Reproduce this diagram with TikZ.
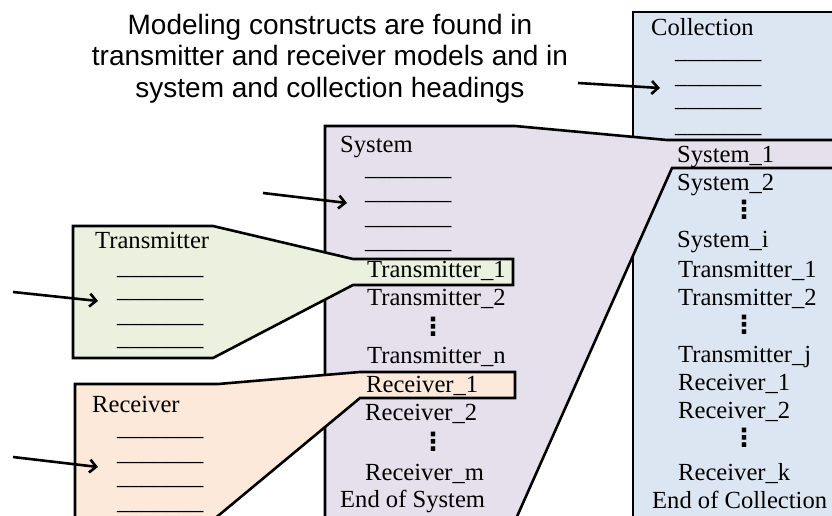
\documentclass[tikz,border=0pt]{standalone}
\usepackage{fontspec}
\setmainfont{Liberation Serif}
\newfontfamily\headfont{Liberation Sans}
\newfontfamily\symfont{DejaVu Sans}
\usetikzlibrary{arrows.meta}
\definecolor{collfill}{HTML}{DCE6F2}
\definecolor{sysfill}{HTML}{E5E0EC}
\definecolor{txfill}{HTML}{EBF1DE}
\definecolor{rxfill}{HTML}{FDE9D9}
\newcommand\fieldrule{\_\_\_\_\_\_\_}
\begin{document}
\begin{tikzpicture}[x=1pt,y=-1pt,
  panel/.style={draw=black, line width=2.6pt, line join=miter},
  entry/.style={anchor=base west, inner sep=0pt, font=\fontsize{24.6}{28}\selectfont},
  vdot/.style={inner sep=0pt, font=\symfont\bfseries\fontsize{25}{28}\selectfont},
  pointer/.style={line width=2.6pt, -{Straight Barb[length=6.5pt,width=13pt]}}]
\useasboundingbox (0,0) rectangle (832,516);
\clip (0,0) rectangle (832,516);

% panels, back to front
\path[panel, fill=collfill] (633,12) -- (850,12) -- (850,530) -- (633,530) -- cycle;
\path[panel, fill=sysfill] (325,530) -- (325,126) -- (515,126) -- (667,140) -- (850,140)
  -- (850,168) -- (672,168) -- (511,530) -- cycle;
\path[panel, fill=txfill] (73,226) -- (213,226) -- (353,259) -- (513,259) -- (513,285)
  -- (353,285) -- (213,358) -- (73,358) -- cycle;
\path[panel, fill=rxfill] (75,530) -- (75,384) -- (218,384) -- (360,372) -- (515,372)
  -- (515,398) -- (360,398) -- (201,530) -- cycle;

% heading note
\node[font=\headfont\fontsize{28}{31.5}\selectfont, align=center, inner sep=0pt, anchor=north]
  (note) at (330,14) {Modeling constructs are found in\\transmitter and receiver models and in\\system and collection headings};

% collection listing
\node[entry] (ctitle) at (651,36) {Collection};
\node[entry] (cf1) at (675,59) {\fieldrule};
\node[entry] (cf2) at (675,84) {\fieldrule};
\node[entry] (cf3) at (675,107) {\fieldrule};
\node[entry] (cf4) at (675,132) {\fieldrule};
\node[entry] (cs1) at (677,162) {System\_1};
\node[entry] (cs2) at (677,190) {System\_2};
\node[vdot] (cd1) at (744,210) {⋮};
\node[entry] (csi) at (677,247) {System\_i};
\node[entry] (ct1) at (678,277) {Transmitter\_1};
\node[entry] (ct2) at (678,305) {Transmitter\_2};
\node[vdot] (cd2) at (744,325) {⋮};
\node[entry] (ctj) at (678,362) {Transmitter\_j};
\node[entry] (cr1) at (678,390) {Receiver\_1};
\node[entry] (cr2) at (678,418) {Receiver\_2};
\node[vdot] (cd3) at (744,438) {⋮};
\node[entry] (crk) at (678,480) {Receiver\_k};
\node[entry] (cend) at (652,508) {End of Collection};

% system listing
\node[entry] (stitle) at (340,152) {System};
\node[entry] (sf1) at (365,175) {\fieldrule};
\node[entry] (sf2) at (365,199) {\fieldrule};
\node[entry] (sf3) at (365,224) {\fieldrule};
\node[entry] (sf4) at (365,248) {\fieldrule};
\node[entry] (st1) at (367,277) {Transmitter\_1};
\node[entry] (st2) at (367,305) {Transmitter\_2};
\node[vdot] (sd1) at (433,327) {⋮};
\node[entry] (stn) at (367,363) {Transmitter\_n};
\node[entry] (sr1) at (366,392) {Receiver\_1};
\node[entry] (sr2) at (365,420) {Receiver\_2};
\node[vdot] (sd2) at (433,442) {⋮};
\node[entry] (srm) at (365,480) {Receiver\_m};
\node[entry] (send) at (340,507) {End of System};

% transmitter model
\node[entry] (ttitle) at (95,248) {Transmitter};
\node[entry] (tf1) at (117,274) {\fieldrule};
\node[entry] (tf2) at (117,297) {\fieldrule};
\node[entry] (tf3) at (117,322) {\fieldrule};
\node[entry] (tf4) at (117,345) {\fieldrule};

% receiver model
\node[entry] (rtitle) at (92,412) {Receiver};
\node[entry] (rf1) at (117,435) {\fieldrule};
\node[entry] (rf2) at (117,460) {\fieldrule};
\node[entry] (rf3) at (117,484) {\fieldrule};
\node[entry] (rf4) at (117,509) {\fieldrule};

% pointers to the modeling constructs
\coordinate (pc0) at (578,83);  \coordinate (pc1) at (660,88);
\coordinate (ps0) at (263,193); \coordinate (ps1) at (347,203);
\coordinate (pt0) at (13,292);  \coordinate (pt1) at (98,301);
\coordinate (pr0) at (13,457);  \coordinate (pr1) at (98,467);
\draw[pointer] (pc0) -- (pc1);
\draw[pointer] (ps0) -- (ps1);
\draw[pointer] (pt0) -- (pt1);
\draw[pointer] (pr0) -- (pr1);
\end{tikzpicture}
\end{document}
